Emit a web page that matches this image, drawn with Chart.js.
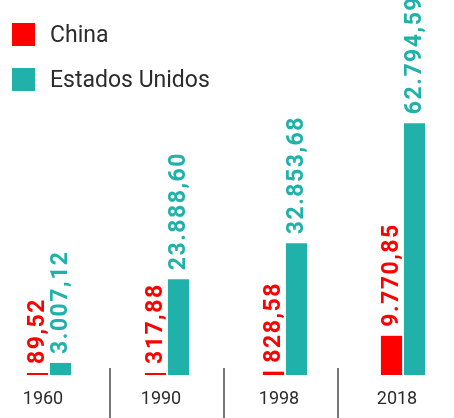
<!DOCTYPE html>
<html>
<head>
<meta charset="utf-8">
<script src="https://cdn.jsdelivr.net/npm/chart.js@4/dist/chart.umd.min.js"></script>
<style>
  html, body { margin: 0; padding: 0; background: #ffffff; overflow: hidden; }
  #wrap { position: relative; width: 454px; height: 418px; overflow: hidden; }
  canvas { position: absolute; left: -10px; top: 0; }
  .legend { position: absolute; left: 12px; font-family: Roboto, sans-serif; font-size: 23px; color: #2b2b2b; }
  .legend .item { position: absolute; left: 0; white-space: nowrap; height: 24px; line-height: 24px; }
  .legend .sw { display: inline-block; width: 23px; height: 23px; vertical-align: top; margin-right: 15px; }
</style>
</head>
<body>
<div id="wrap">
  <canvas id="c" width="472" height="418"></canvas>
  <div class="legend" id="legend"></div>
</div>
<script>
const categories = ["1960", "1990", "1998", "2018"];
const seriesNames = ["China", "Estados Unidos"];
const chinaValues = [89.52, 317.88, 828.58, 9770.85];
const usaValues = [3007.12, 23888.60, 32853.68, 62794.59];
const seriesColors = ["#ff0000", "#20b2aa"];

// HTML legend (real text)
const legendEl = document.getElementById('legend');
seriesNames.forEach((name, i) => {
  const item = document.createElement('div');
  item.className = 'item';
  item.style.top = (23 + i * 45) + 'px';
  const sw = document.createElement('span');
  sw.className = 'sw';
  sw.style.background = seriesColors[i];
  item.appendChild(sw);
  item.appendChild(document.createTextNode(name));
  legendEl.appendChild(item);
});

const fmt = new Intl.NumberFormat('de-DE', { minimumFractionDigits: 2, maximumFractionDigits: 2 });

const valueLabels = {
  id: 'valueLabels',
  afterDatasetsDraw(chart) {
    const ctx = chart.ctx;
    chart.data.datasets.forEach((ds, di) => {
      const meta = chart.getDatasetMeta(di);
      meta.data.forEach((el, i) => {
        ctx.save();
        ctx.font = 'bold 23px Roboto, sans-serif';
        try { ctx.letterSpacing = '1.5px'; } catch (e) {}
        ctx.fillStyle = ds.backgroundColor;
        ctx.textAlign = 'left';
        ctx.textBaseline = 'middle';
        ctx.translate(el.x + 1, el.y - 9);
        ctx.rotate(-Math.PI / 2);
        ctx.fillText(fmt.format(ds.data[i]), 0, 0);
        ctx.restore();
      });
    });
  }
};

const separators = {
  id: 'separators',
  afterDraw(chart) {
    const ctx = chart.ctx;
    const xs = chart.scales.x;
    ctx.save();
    ctx.strokeStyle = '#4a4a4a';
    ctx.lineWidth = 1.5;
    for (let i = 1; i < categories.length; i++) {
      const x = (xs.getPixelForValue(i - 1) + xs.getPixelForValue(i)) / 2 + 6 - 4 * i;
      ctx.beginPath();
      ctx.moveTo(x, chart.chartArea.bottom - 7);
      ctx.lineTo(x, chart.height);
      ctx.stroke();
    }
    ctx.restore();
  }
};

new Chart(document.getElementById('c'), {
  type: 'bar',
  data: {
    labels: categories,
    datasets: [
      { label: seriesNames[0], data: chinaValues, backgroundColor: seriesColors[0], minBarLength: 2 },
      { label: seriesNames[1], data: usaValues, backgroundColor: seriesColors[1], minBarLength: 2 }
    ]
  },
  options: {
    responsive: false,
    animation: false,
    devicePixelRatio: 1,
    layout: { padding: 0 },
    categoryPercentage: 0.39,
    barPercentage: 0.92,
    plugins: { legend: { display: false }, tooltip: { enabled: false } },
    scales: {
      x: {
        grid: { display: false },
        border: { display: false },
        ticks: {
          color: '#2b2b2b',
          font: { family: 'Roboto, sans-serif', size: 18 },
          padding: 6,
          labelOffset: -6,
          autoSkip: false,
          maxRotation: 0
        },
        afterFit(scale) { scale.height = 43; }
      },
      y: {
        display: false,
        min: 0,
        max: 93500
      }
    }
  },
  plugins: [valueLabels, separators]
});
</script>
</body>
</html>
